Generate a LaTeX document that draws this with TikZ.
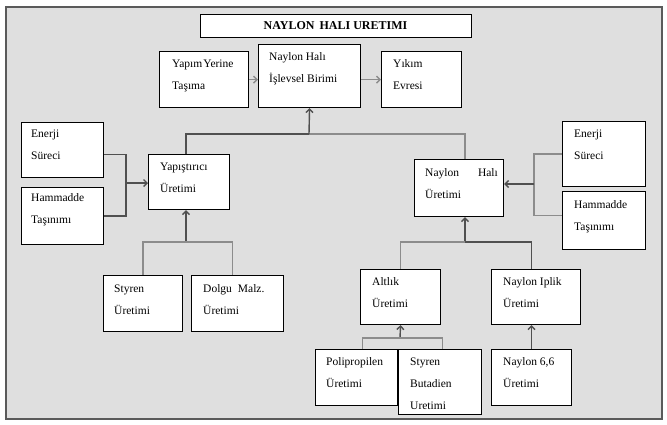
\documentclass[tikz,border=0pt]{standalone}
\usepackage{fontspec}
\setmainfont{Liberation Serif}
\usetikzlibrary{arrows.meta,calc}
\definecolor{framefill}{HTML}{DFDFDF}
\definecolor{framedraw}{HTML}{5A5A5A}
\definecolor{cdark}{HTML}{505050}
\definecolor{clight}{HTML}{8C8C8C}
\tikzset{
  x=1pt, y=-1pt,
  box/.style={draw=black, line width=1.1pt, fill=white, anchor=north west, inner sep=0pt},
  txt/.style={anchor=base west, inner sep=0pt, font=\fontsize{11.5}{22}\selectfont},
  cd/.style={draw=cdark, line width=1.4pt},
  cl/.style={draw=clight, line width=1.4pt},
  arr/.style={-{Straight Barb[length=3.5pt,width=7pt]}},
}
\newcommand{\bx}[5]{\node[box, minimum width=#4-#2, minimum height=#5-#3] (#1) at (#2,#3) {};}
\newcommand{\tl}[2]{\vtop{\hbox{#1}\hbox{#2}}}
\begin{document}
\begin{tikzpicture}
\useasboundingbox (0,0) rectangle (667,424);
\draw[draw=framedraw, line width=2pt, fill=framefill] (6,7) rectangle (662,419);

% title
\node[box, minimum width=271, minimum height=23] (title) at (200,14) {};
\node[anchor=base, inner sep=0pt, font=\fontsize{12}{14}\selectfont\bfseries] (titlet) at (335.5,29) {NAYLON\hspace{5pt}HALI URETIMI};

% boxes
\bx{YY}{159}{51}{248}{107}
\bx{IB}{258}{44}{360}{107}
\bx{YK}{381}{51}{461}{107}
\bx{EL}{21}{122}{103}{177}
\bx{HL}{21}{187}{103}{244}
\bx{YP}{148}{154}{229}{209}
\bx{NU}{414}{159}{503}{216}
\bx{ER}{562}{121}{645}{186}
\bx{HR}{562}{191}{645}{249}
\bx{SU}{103}{275}{182}{331}
\bx{DM}{191}{275}{283}{331}
\bx{AU}{360}{269}{440}{324}
\bx{NI}{491}{269}{580}{324}
\bx{PP}{315}{349}{397}{405}
\bx{SB}{398}{349}{481}{414}
\bx{N66}{491}{349}{571}{405}

% texts
\node[txt] (YYt) at (172,67) {\tl{Yapım\hspace{1pt}Yerine}{Taşıma}};
\node[txt] (IBt) at (269,60) {\tl{Naylon Halı}{İşlevsel Birimi}};
\node[txt] (YKt) at (393,67) {\tl{Yıkım}{Evresi}};
\node[txt] (ELt) at (31,137) {\tl{Enerji}{Süreci}};
\node[txt] (HLt) at (31,201) {\tl{Hammadde}{Taşınımı}};
\node[txt] (YPt) at (160,170) {\tl{Yapıştırıcı}{Üretimi}};
\node[txt] (NUt) at (425,176) {\tl{Naylon\hspace{19pt}Halı}{Üretimi}};
\node[txt] (ERt) at (574,137) {\tl{Enerji}{Süreci}};
\node[txt] (HRt) at (574,208) {\tl{Hammadde}{Taşınımı}};
\node[txt] (SUt) at (114,292) {\tl{Styren}{Üretimi}};
\node[txt] (DMt) at (203,292) {\tl{Dolgu\hspace{6pt}Malz.}{Üretimi}};
\node[txt] (AUt) at (372,285) {\tl{Altlık}{Üretimi}};
\node[txt] (NIt) at (503,285) {\tl{Naylon Iplik}{Üretimi}};
\node[txt] (PPt) at (326,365) {\tl{Polipropilen}{Üretimi}};
\node[txt] (SBt) at (410,365) {\vtop{\hbox{Styren}\hbox{Butadien}\hbox{Uretimi}}};
\node[txt] (N66t) at (503,365) {\tl{Naylon 6,6}{Üretimi}};

% junction coordinates
\coordinate (jL) at (126,183);
\coordinate (jR) at (534,184);
\coordinate (jT) at (309,134);
\coordinate (jY) at (186,242);
\coordinate (jN) at (465,242);
\coordinate (jA) at (400,338);

% top arrows
\draw[cl, arr] (YY.east) -- (YY.east -| IB.west);
\draw[cl, arr] (IB.east |- YK.west) -- (YK.west);

% top tree
\draw[cd] (YP.north -| jY) |- (jT);
\draw[cl] (jT) -| (NU.north -| jN);
\draw[cd, arr] (jT) -- (IB.south);

% left inputs
\draw[cd] ([yshift=-4.5pt]EL.east) -| (jL);
\draw[cd] (HL.east) -| (jL);
\draw[cd, arr] (jL) -- (YP.west |- jL);

% right inputs
\draw[cl] (ER.west) -| (jR);
\draw[cl] ([yshift=5pt]HR.west) -| (jR);
\draw[cd, arr] (jR) -- (NU.east |- jR);

% Yapistirici sub-tree
\draw[cd, arr] (jY) -- (YP.south -| jY);
\draw[cl] (jY) -| (SU.north);
\draw[cl] (jY) -| ([xshift=-5pt]DM.north);

% Naylon Hali Uretimi sub-tree
\draw[cd, arr] (jN) -- (NU.south -| jN);
\draw[cl] (jN) -| (AU.north);
\draw[cd] (jN) -| ([xshift=-4.5pt]NI.north);

% Altlik sub-tree
\draw[cd, arr] (jA) -- (AU.south);
\draw[cl] (jA) -| ([xshift=6pt]PP.north);
\draw[cl] (jA) -| ([xshift=2.5pt]SB.north);

% Naylon 6,6
\draw[cd, arr] (N66.north) -- (N66.north |- NI.south);
\end{tikzpicture}
\end{document}
